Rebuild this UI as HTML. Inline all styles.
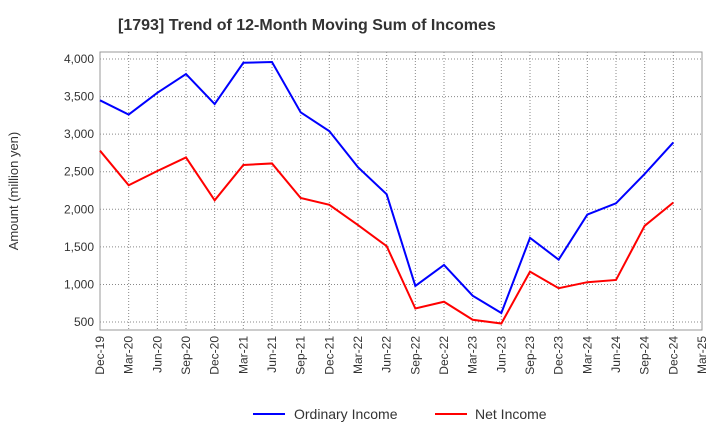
<!DOCTYPE html>
<html><head><meta charset="utf-8"><style>
body{margin:0;background:#fff;font-family:"Liberation Sans",sans-serif;}
svg text{font-family:"Liberation Sans",sans-serif;}
</style></head><body>
<svg id="chart" width="720" height="440" xmlns="http://www.w3.org/2000/svg">
<text x="118" y="30" font-size="16" font-weight="bold" fill="#333">[1793]  Trend of 12-Month Moving Sum of Incomes</text>
<text transform="translate(18,191) rotate(-90)" font-size="13" text-anchor="middle" fill="#333">Amount (million yen)</text>
<g id="grid"></g><g id="axes"></g><g id="series"></g>
<g>
<line x1="253" y1="414" x2="285" y2="414" stroke="#0000ff" stroke-width="2"/>
<text x="294" y="419" font-size="14" fill="#333">Ordinary Income</text>
<line x1="435" y1="414" x2="467" y2="414" stroke="#ff0000" stroke-width="2"/>
<text x="475" y="419" font-size="14" fill="#333">Net Income</text>
</g>
</svg>
<script>
const categories=["Dec-19","Mar-20","Jun-20","Sep-20","Dec-20","Mar-21","Jun-21","Sep-21","Dec-21","Mar-22","Jun-22","Sep-22","Dec-22","Mar-23","Jun-23","Sep-23","Dec-23","Mar-24","Jun-24","Sep-24","Dec-24","Mar-25"];
const ordinaryIncome=[3450,3260,3550,3800,3400,3950,3960,3290,3040,2560,2200,980,1260,850,620,1620,1330,1930,2080,2470,2890];
const netIncome=[2780,2320,2510,2690,2120,2590,2610,2150,2060,1790,1510,680,770,530,480,1170,950,1030,1060,1780,2090];
const yTicks=[500,1000,1500,2000,2500,3000,3500,4000];
const yTickLabels=["500","1,000","1,500","2,000","2,500","3,000","3,500","4,000"];
const NS="http://www.w3.org/2000/svg";
const L=100,R=702,T=52,B=330,yMin=394,yMax=4093;
const x=i=>L+(R-L)*i/(categories.length-1);
const y=v=>B-(v-yMin)/(yMax-yMin)*(B-T);
function mk(tag,attrs,parent){const e=document.createElementNS(NS,tag);for(const k in attrs)e.setAttribute(k,attrs[k]);parent.appendChild(e);return e;}
const grid=document.getElementById('grid'),axes=document.getElementById('axes'),series=document.getElementById('series');
yTicks.forEach((v,i)=>{
 const g=mk('line',{x1:L,x2:R,y1:y(v),y2:y(v),stroke:'#888','stroke-dasharray':'1,2','stroke-width':1},grid);
 
 
 const t=mk('text',{x:L-6,y:y(v)+4,'font-size':12,'text-anchor':'end',fill:'#333'},axes);
 t.textContent=yTickLabels[i];
 
 
});
categories.forEach((c,i)=>{
 if(i>0&&i<categories.length-1){const g=mk('line',{x1:x(i),x2:x(i),y1:T,y2:B,stroke:'#888','stroke-dasharray':'1,2','stroke-width':1},grid);
 
 }
 const t=mk('text',{'font-size':12,'text-anchor':'end',fill:'#333',transform:`translate(${x(i)+4},${B+6}) rotate(-90)`},axes);
 t.textContent=c;
 
 
});
const fr=mk('rect',{x:L,y:T,width:R-L,height:B-T,fill:'none',stroke:'#999'},axes);


function line(data,color,name){
 const p=mk('polyline',{points:data.map((v,i)=>x(i)+','+y(v)).join(' '),fill:'none',stroke:color,'stroke-width':2},series);
 
 
}
line(ordinaryIncome,'#0000ff','ordinary-income-line');
line(netIncome,'#ff0000','net-income-line');
</script>
</body></html>
